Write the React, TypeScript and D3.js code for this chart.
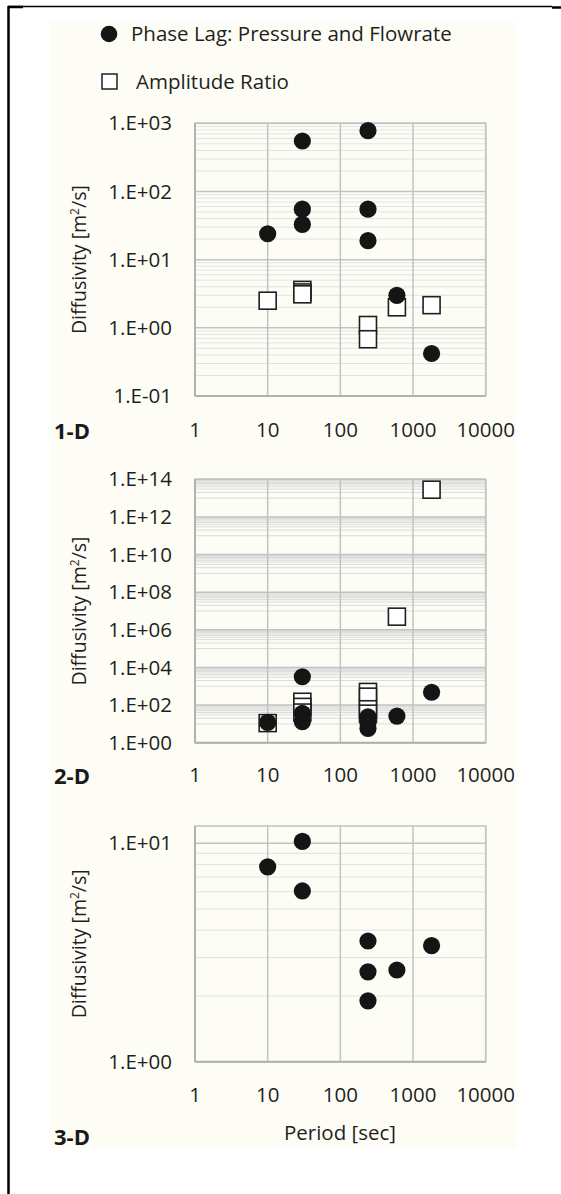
import * as d3 from "d3";

// shared x axis
const periodTicks = [1, 10, 100, 1000, 10000];
const periodLabels = ["1", "10", "100", "1000", "10000"];

// 1-D panel
const phaseLag1D: [number, number][] = [
  [10, 24], [30, 550], [30, 55], [30, 33], [240, 780], [240, 55], [240, 19], [600, 3], [1800, 0.42],
];
const ampRatio1D: [number, number][] = [
  [10, 2.5], [30, 3.6], [30, 3.3], [30, 3.1], [240, 1.1], [240, 0.68], [600, 2.0], [1800, 2.15],
];
const ticks1D = [0.1, 1, 10, 100, 1000];
const labels1D = ["1.E-01", "1.E+00", "1.E+01", "1.E+02", "1.E+03"];

// 2-D panel
const phaseLag2D: [number, number][] = [
  [10, 12], [30, 3200], [30, 36], [30, 13], [240, 24], [240, 11], [240, 5.8], [600, 26], [1800, 480],
];
const ampRatio2D: [number, number][] = [
  [10, 11], [30, 150], [30, 80], [30, 40], [240, 500], [240, 280], [240, 60], [240, 35], [600, 5e6], [1800, 2.8e13],
];
const ticks2D = [1, 1e2, 1e4, 1e6, 1e8, 1e10, 1e12, 1e14];
const labels2D = ["1.E+00", "1.E+02", "1.E+04", "1.E+06", "1.E+08", "1.E+10", "1.E+12", "1.E+14"];

// 3-D panel
const phaseLag3D: [number, number][] = [
  [10, 7.8], [30, 10.2], [30, 6.05], [240, 3.57], [240, 2.58], [240, 1.9], [600, 2.63], [1800, 3.4],
];
const ticks3D = [1, 10];
const labels3D = ["1.E+00", "1.E+01"];

const FONT = "'Open Sans', sans-serif";
const TXT = "#1f1f1f";
const X0 = 195, X1 = 485.7;

// minor lines: k * 10^n per decade (base 10), or 10^(odd) and k*10^(odd) for the base-100 axis
function minorLines(domain: [number, number], step: number) {
  const out: number[] = [];
  const lo = Math.floor(Math.log10(domain[0])), hi = Math.ceil(Math.log10(domain[1]));
  for (let e = lo; e < hi; e++) {
    if (step === 2 && (e - lo) % 2 === 0) {
      out.push(Math.pow(10, e + 1));
      continue;
    }
    for (let k = 2; k <= 9; k++) {
      const v = k * Math.pow(10, e);
      if (v > domain[0] && v < domain[1]) out.push(v);
    }
  }
  return out;
}

function Panel(props: {
  top: number; bottom: number; domain: [number, number]; ticks: number[]; labels: string[];
  step: number; phase: [number, number][]; amp: [number, number][]; tag: string; xLabelY: number; tagY: number;
}) {
  const x = d3.scaleLog().domain([1, 10000]).range([X0, X1]);
  const y = d3.scaleLog().domain(props.domain).range([props.bottom, props.top]);
  const minors = minorLines(props.domain, props.step);
  const midY = (props.top + props.bottom) / 2;
  const minorColor = props.step === 2 ? "#dadada" : "#e2e2e2";
  return (
    <g>
      {minors.map((v, i) => (
        <line key={"m" + i} x1={X0} x2={X1} y1={y(v)} y2={y(v)} stroke={minorColor} strokeWidth={1} />
      ))}
      {props.ticks.map((v, i) => (
        <line key={"h" + i} x1={X0} x2={X1} y1={y(v)} y2={y(v)} stroke="#c2c2c2" strokeWidth={1.5} />
      ))}
      {periodTicks.map((v, i) => (
        <line key={"v" + i} x1={x(v)} x2={x(v)} y1={props.top} y2={props.bottom} stroke="#c2c2c2" strokeWidth={1.5} />
      ))}
      <rect x={X0} y={props.top} width={X1 - X0} height={props.bottom - props.top} fill="none" stroke="#c2c2c2" strokeWidth={1.5} />
      <line x1={X0} x2={X0} y1={props.top} y2={props.bottom} stroke="#b2b2b2" strokeWidth={2} />
      <line x1={X0} x2={X1} y1={props.bottom} y2={props.bottom} stroke="#b2b2b2" strokeWidth={2} />

      {props.ticks.map((v, i) => (
        <text key={"yl" + i} x={172} y={y(v)} dy="0.35em" textAnchor="end" fontSize={20.5} fill={TXT} fontFamily={FONT}>
          {props.labels[i]}
        </text>
      ))}
      {periodTicks.map((v, i) => (
        <text key={"xl" + i} x={x(v)} y={props.xLabelY} dy="0.35em" textAnchor="middle" fontSize={20.5} fill={TXT} fontFamily={FONT}>
          {periodLabels[i]}
        </text>
      ))}
      <text transform={`translate(79,${midY}) rotate(-90)`} dy="0.35em" textAnchor="middle" fontSize={19.5} fill={TXT} fontFamily={FONT}>
        Diffusivity [m<tspan dy="-7" fontSize={12}>2</tspan><tspan dy="7">/s]</tspan>
      </text>

      {props.amp.map((d, i) => (
        <rect key={"a" + i} x={x(d[0]) - 8.5} y={y(d[1]) - 8.5} width={17} height={17} fill="#fff" stroke="#1f1f1f" strokeWidth={1.6} />
      ))}
      {props.phase.map((d, i) => (
        <circle key={"p" + i} cx={x(d[0])} cy={y(d[1])} r={8.6} fill="#151515" />
      ))}

      <text x={72} y={props.tagY} dy="0.35em" textAnchor="middle" fontSize={22} fontWeight="bold" fill="#1a1a1a" fontFamily={FONT}>
        {props.tag}
      </text>
    </g>
  );
}

export default function App() {
  return (
    <svg width={561} height={1194} style={{ position: "absolute", left: 0, top: 0, background: "#fff" }}>
      <rect x={50} y={22} width={467} height={1126} fill="#fdfdf6" />
      <line x1={8.5} x2={8.5} y1={6} y2={1194} stroke="#000" strokeWidth={2.5} />
      <line x1={8} x2={552} y1={6.5} y2={6.5} stroke="#000" strokeWidth={1.5} />
      <line x1={8} x2={23} y1={7} y2={7} stroke="#000" strokeWidth={2.5} />
      <line x1={552} x2={561} y1={7.5} y2={7.5} stroke="#000" strokeWidth={2.5} />

      {/* legend */}
      <circle cx={109} cy={34} r={8.3} fill="#151515" />
      <text x={131} y={34} dy="0.35em" fontSize={20.5} fill={TXT} fontFamily={FONT}>Phase Lag: Pressure and Flowrate</text>
      <rect x={102} y={74} width={15} height={15} fill="#fff" stroke="#1f1f1f" strokeWidth={1.5} />
      <text x={136} y={82} dy="0.35em" fontSize={20.5} fill={TXT} fontFamily={FONT}>Amplitude Ratio</text>

      <Panel top={123.3} bottom={396} domain={[0.1, 1000]} ticks={ticks1D} labels={labels1D} step={1}
        phase={phaseLag1D} amp={ampRatio1D} tag="1-D" xLabelY={430} tagY={431} />
      <Panel top={479.3} bottom={742.7} domain={[1, 1e14]} ticks={ticks2D} labels={labels2D} step={2}
        phase={phaseLag2D} amp={ampRatio2D} tag="2-D" xLabelY={775} tagY={776} />
      <Panel top={826} bottom={1061.7} domain={[1, 12]} ticks={ticks3D} labels={labels3D} step={1}
        phase={phaseLag3D} amp={[]} tag="3-D" xLabelY={1095} tagY={1137} />

      <text x={340} y={1133} dy="0.35em" textAnchor="middle" fontSize={20.5} fill={TXT} fontFamily={FONT}>Period [sec]</text>
    </svg>
  );
}
